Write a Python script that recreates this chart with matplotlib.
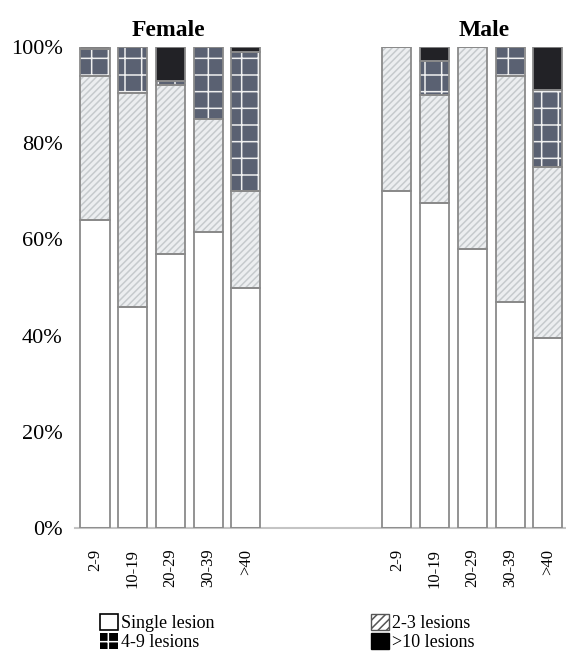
import matplotlib
matplotlib.use("Agg")
import matplotlib.pyplot as plt
from matplotlib.patches import Patch
import numpy as np

plt.rcParams['font.family'] = ['Liberation Serif', 'DejaVu Serif']
plt.rcParams['hatch.linewidth'] = 1.1

age_groups = ["2-9", "10-19", "20-29", "30-39", ">40"]
groups = ["Female", "Male"]
series = ["Single lesion", "2-3 lesions", "4-9 lesions", ">10 lesions"]

female_single = [64.0, 46.0, 57.0, 61.5, 50.0]
female_2_3 = [30.0, 44.5, 35.0, 23.5, 20.0]
female_4_9 = [5.5, 9.5, 1.0, 15.0, 29.0]
female_10 = [0.5, 0.0, 7.0, 0.0, 1.0]

male_single = [70.0, 67.5, 58.0, 47.0, 39.5]
male_2_3 = [30.0, 22.5, 42.0, 47.0, 35.5]
male_4_9 = [0.0, 7.0, 0.0, 6.0, 16.0]
male_10 = [0.0, 3.0, 0.0, 0.0, 9.0]

styles = [
    dict(face="white", hatch=None, hcol="white"),
    dict(face="#eceef0", hatch="/////", hcol="#c6cacd"),
    dict(face="#5a6172", hatch="+", hcol="#f0f0f0"),
    dict(face="#222226", hatch=None, hcol="#222226"),
]
outline = "#8a8a8a"

W, H = 566, 652
fig = plt.figure(figsize=(W / 100, H / 100), dpi=100)
ax = fig.add_axes([75 / W, 1 - 528 / H, (W - 75) / W, 481 / H])

pos_f = np.arange(5)
pos_m = np.arange(5) + 8
width = 0.77

def draw(pos, data):
    bottom = np.zeros(len(pos))
    for vals, st in zip(data, styles):
        v = np.array(vals) / 100.0
        ax.bar(pos, v, width, bottom=bottom, color=st["face"], edgecolor=st["hcol"],
               hatch=st["hatch"], linewidth=0, zorder=2)
        ax.bar(pos, v, width, bottom=bottom, fill=False, edgecolor=outline,
               linewidth=1.3, zorder=3)
        bottom += v

draw(pos_f, [female_single, female_2_3, female_4_9, female_10])
draw(pos_m, [male_single, male_2_3, male_4_9, male_10])

ax.set_xlim(-0.53, 12.48)
ax.set_ylim(0, 1)
ax.set_yticks(np.linspace(0, 1, 6))
ax.set_yticklabels([f"{int(t)}%" for t in np.linspace(0, 100, 6)], fontsize=16)
ax.tick_params(axis="y", length=0, pad=9)
ax.set_xticks(np.concatenate([pos_f, pos_m]))
ax.set_xticklabels(age_groups + age_groups, rotation=90, fontsize=12)
ax.tick_params(axis="x", length=0, pad=15)
for s in ["left", "top", "right"]:
    ax.spines[s].set_visible(False)
ax.spines["bottom"].set_color("#c4c4c4")
ax.spines["bottom"].set_linewidth(1.5)

ax.text(1.95, 1.035, groups[0], ha="center", va="center", fontsize=17, fontweight="bold")
ax.text(10.3, 1.035, groups[1], ha="center", va="center", fontsize=17, fontweight="bold")

handles = [
    Patch(facecolor="white", edgecolor="black", linewidth=1.2),
    Patch(facecolor="white", edgecolor="#555555", hatch="////", linewidth=1.0),
    Patch(facecolor="black", edgecolor="white", hatch="+", linewidth=0),
    Patch(facecolor="black", edgecolor="black", linewidth=1.0),
]

kw = dict(frameon=False, fontsize=13, handlelength=1.0, handleheight=1.0,
          handletextpad=0.15, labelspacing=0.05, borderpad=0, borderaxespad=0)
leg1 = fig.legend([handles[0], handles[2]], [series[0], series[2]],
                  loc="upper left", bbox_to_anchor=(100 / W, 1 - 614 / H), **kw)
leg2 = fig.legend([handles[1], handles[3]], [series[1], series[3]],
                  loc="upper left", bbox_to_anchor=(371 / W, 1 - 614 / H), **kw)

fig.savefig("out.png", dpi=100)
